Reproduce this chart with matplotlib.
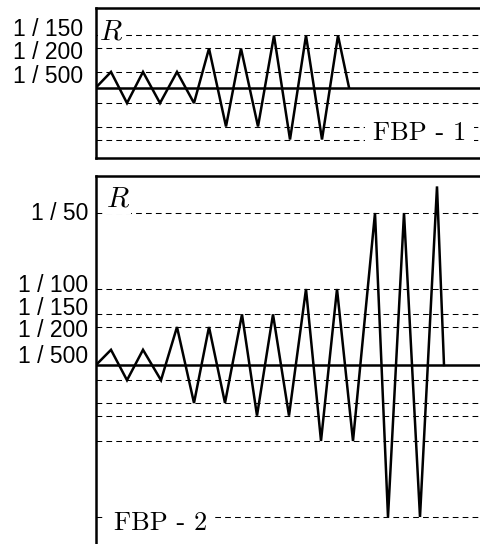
import matplotlib
matplotlib.use("Agg")
import matplotlib.pyplot as plt

plt.rcParams['mathtext.fontset'] = 'cm'

# ---------------- data ----------------
# Panel 1 (FBP - 1): drift ratio history
t1 = [0, 15, 31, 47, 64, 81, 98, 113, 130, 145, 162, 178, 194, 210, 226, 242, 253]
r1 = [0, 1/500, -1/500, 1/500, -1/500, 1/500, -1/500,
      1/200, -1/200, 1/200, -1/200,
      1/150, -1/150, 1/150, -1/150, 1/150, 0]
levels1 = [1/150, 1/200, 1/500, -1/500, -1/200, -1/150]
ticks1 = [1/150, 1/200, 1/500]
ticklabels1 = ["1 / 150", "1 / 200", "1 / 500"]

# Panel 2 (FBP - 2)
t2 = [0, 15, 31, 47, 65, 81, 98, 113, 129, 146, 161, 177, 193, 210, 225, 241,
      257, 279, 292, 308, 324, 341, 348]
r2 = [0, 1/500, -1/500, 1/500, -1/500,
      1/200, -1/200, 1/200, -1/200,
      1/150, -1/150, 1/150, -1/150,
      1/100, -1/100, 1/100, -1/100,
      1/50, -1/50, 1/50, -1/50, 0.0235, 0]
levels2 = [1/50, 1/100, 1/150, 1/200, -1/500, -1/200, -1/150, -1/100, -1/50]
ticks2 = [1/50, 1/100, 1/150, 1/200, 1/500]
ticklabels2 = ["1 / 50", "1 / 100", "1 / 150", "1 / 200", "1 / 500"]

# ---------------- figure ----------------
W, H = 480, 544
fig = plt.figure(figsize=(W / 100, H / 100), dpi=100)

ax1 = fig.add_axes([96 / W, 1 - 158 / H, 394 / W, 150 / H])
ax2 = fig.add_axes([96 / W, 1 - 560 / H, 394 / W, 384 / H])

ax1.set_ylim(-70.5 / 7800, 79.5 / 7800)
ax2.set_ylim(-195 / 7600, 189 / 7600)

dash = (0, (5.5, 4))


def style(ax, t, r, levels):
    ax.set_xlim(0, 394)
    ax.set_xticks([])
    ax.set_yticks([])
    for s in ax.spines.values():
        s.set_linewidth(1.8)
        s.set_color('k')
    for lv in levels:
        ax.axhline(lv, color='k', lw=0.75, linestyle=dash, zorder=1)
    ax.axhline(0, color='k', lw=1.8, zorder=2)
    ax.plot(t, r, color='k', lw=1.8, solid_joinstyle='miter', zorder=3)


style(ax1, t1, r1, levels1)
style(ax2, t2, r2, levels2)

# tick labels (offsets in px -> points)
off1 = [0.5, 10.5, 11]
off2 = [7.5, 3.5, 0.5, 10, 13]
for ax, ticks, labels, offs, dx in [(ax1, ticks1, ticklabels1, off1, 13),
                                     (ax2, ticks2, ticklabels2, off2, 8)]:
    for v, lab, o in zip(ticks, labels, offs):
        ax.annotate(lab, xy=(0, v), xycoords=('axes fraction', 'data'),
                    xytext=(-dx * 0.72, -o * 0.72), textcoords='offset points',
                    ha='right', va='baseline', fontsize=16.5,
                    family='Liberation Sans', annotation_clip=False)

# R labels
ax1.annotate(r'$R$', xy=(0, 1), xycoords='axes fraction',
             xytext=(3 * 0.72, -31 * 0.72), textcoords='offset points',
             ha='left', va='baseline', fontsize=21, zorder=5,
             bbox=dict(boxstyle='square,pad=0.05', fc='white', ec='none'))
ax2.annotate(r'$R$', xy=(0, 1), xycoords='axes fraction',
             xytext=(10 * 0.72, -31 * 0.72), textcoords='offset points',
             ha='left', va='baseline', fontsize=21, zorder=5,
             bbox=dict(boxstyle='square,pad=0.05', fc='white', ec='none'))

# panel names
ax1.text(277 / 394, 18 / 150, "FBP - 1", transform=ax1.transAxes,
         ha='left', va='baseline', fontsize=19, family='cmr10', zorder=5,
         bbox=dict(boxstyle='square,pad=0.3', fc='white', ec='none'))
ax2.text(18 / 394, 30 / 384, "FBP - 2", transform=ax2.transAxes,
         ha='left', va='baseline', fontsize=19, family='cmr10', zorder=5,
         bbox=dict(boxstyle='square,pad=0.3', fc='white', ec='none'))

fig.savefig('out.png', dpi=100)
